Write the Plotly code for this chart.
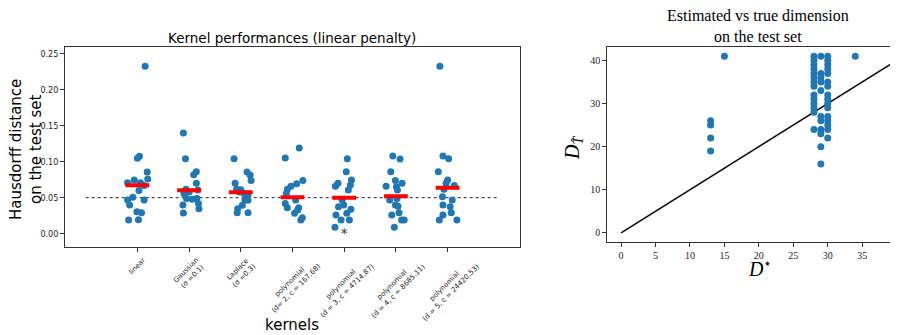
import plotly.graph_objects as go

# ---------------- Left chart data ----------------
kernel_labels = [
    "linear",
    "Gaussian<br>(σ =0.1)",
    "Laplace<br>(σ =0.3)",
    "polynomial<br>(d= 2, c = 167.68)",
    "polynomial<br>(d = 3, c = 4714.87)",
    "polynomial<br>(d = 4, c = 8685.11)",
    "polynomial<br>(d = 5, c = 24420.53)",
]

vals_linear = [0.2325, 0.1047, 0.1075, 0.0857, 0.076, 0.0709, 0.0746, 0.0709, 0.067,
               0.060, 0.0505, 0.0468, 0.0468, 0.0399, 0.0306, 0.0292, 0.019, 0.0195]
jit_linear = [0.15, 0.0, 0.04, 0.19, 0.2, -0.19, -0.06, 0.06, 0.13,
              0.03, -0.09, -0.19, 0.13, -0.15, -0.01, 0.08, -0.17, 0.02]

vals_gauss = [0.1399, 0.1042, 0.0861, 0.082, 0.070, 0.0617, 0.056, 0.0607, 0.049,
              0.0478, 0.049, 0.040, 0.042, 0.0347, 0.0287, 0.058]
jit_gauss = [-0.11, -0.07, 0.14, 0.09, 0.14, -0.06, -0.1, 0.17, -0.05,
             0.06, 0.15, -0.12, 0.18, 0.19, -0.11, 0.0]

vals_laplace = [0.104, 0.0857, 0.0815, 0.074, 0.070, 0.0617, 0.061, 0.056, 0.054,
                0.0468, 0.0464, 0.0394, 0.0347, 0.029, 0.029, 0.058]
jit_laplace = [-0.13, 0.12, 0.18, 0.2, -0.11, -0.08, 0.0, 0.06, 0.14,
               0.08, 0.14, 0.03, -0.06, -0.07, 0.14, -0.03]

vals_poly2 = [0.119, 0.105, 0.074, 0.0695, 0.066, 0.0617, 0.056, 0.0468, 0.042,
              0.036, 0.036, 0.0283, 0.022, 0.019, 0.033]
jit_poly2 = [0.13, -0.14, 0.2, 0.08, -0.03, -0.1, -0.12, 0.06, -0.14,
             -0.1, 0.12, 0.04, 0.19, 0.16, 0.1]

vals_poly3 = [0.104, 0.086, 0.0746, 0.0676, 0.066, 0.070, 0.0607, 0.0468, 0.0399,
              0.0375, 0.034, 0.0283, 0.026, 0.019, 0.019, 0.0088]
jit_poly3 = [0.06, 0.04, 0.14, 0.12, -0.17, -0.12, 0.08, -0.04, -0.01,
             -0.11, 0.13, 0.05, -0.16, -0.06, 0.1, -0.18]

vals_poly4 = [0.108, 0.1037, 0.086, 0.074, 0.070, 0.066, 0.0653, 0.0607, 0.0468,
              0.049, 0.0399, 0.038, 0.026, 0.029, 0.019, 0.019, 0.0088]
jit_poly4 = [-0.06, 0.08, -0.1, -0.01, 0.12, -0.19, 0.01, 0.03, -0.12,
             0.02, -0.01, 0.04, -0.08, 0.06, 0.11, 0.16, -0.03]

vals_poly5 = [0.2325, 0.108, 0.104, 0.086, 0.0746, 0.070, 0.067, 0.0617, 0.0514,
              0.0468, 0.0399, 0.0375, 0.029, 0.026, 0.019, 0.019]
jit_poly5 = [-0.15, -0.09, 0.02, -0.18, 0.0, -0.03, 0.13, -0.07, -0.1,
             0.09, -0.09, 0.05, 0.07, -0.09, -0.16, 0.18]

group_vals = [vals_linear, vals_gauss, vals_laplace, vals_poly2, vals_poly3, vals_poly4, vals_poly5]
group_jit = [jit_linear, jit_gauss, jit_laplace, jit_poly2, jit_poly3, jit_poly4, jit_poly5]

medians = [0.0672, 0.0603, 0.0575, 0.0505, 0.050, 0.052, 0.064]
reference_level = 0.05
best_kernel_index = 3

y_ticks_left = [0.0, 0.05, 0.10, 0.15, 0.20, 0.25]

# ---------------- Right chart data ----------------
true_dims = [13, 13, 13, 13,
             15,
             28, 28, 28, 28, 28, 28, 28, 28, 28, 28, 28, 28, 28, 28,
             29, 29, 29, 29, 29, 29, 29, 29, 29, 29, 29,
             30, 30, 30, 30, 30, 30, 30, 30, 30, 30, 30, 30, 30, 30, 30, 30,
             34]
est_dims = [26, 25, 22, 19,
            41,
            41, 40, 39, 38, 37, 36, 35, 34, 32, 31, 30, 29, 28, 24,
            41, 37, 36, 35, 33, 27, 26, 24, 23, 20, 16,
            41, 40, 39, 38, 37, 35, 34, 32, 31, 30, 29, 27, 26, 25, 24, 22,
            41]
diag = [0, 40]
x_ticks_right = [0, 5, 10, 15, 20, 25, 30, 35, 40]
y_ticks_right = [0, 10, 20, 30, 40]

BLUE = "#1f77b4"
OFF = 8            # page body margin
W, H = 898 - OFF, 335 - OFF


def xp(px):
    return (px - OFF) / W


def yp(py):
    return 1 - (py - OFF) / H


fig = go.Figure()

# Left: jittered scatter
xs, ys = [], []
for i, (vals, jit) in enumerate(zip(group_vals, group_jit)):
    for v, j in zip(vals, jit):
        xs.append(i + j)
        ys.append(v)

fig.add_trace(go.Scatter(x=[-1, len(kernel_labels)], y=[reference_level, reference_level],
                         mode="lines", line=dict(color="#222", width=1, dash="dot"),
                         xaxis="x", yaxis="y", showlegend=False, hoverinfo="skip"))
fig.add_trace(go.Scatter(x=xs, y=ys, mode="markers",
                         marker=dict(color=BLUE, size=7, line=dict(width=0)),
                         xaxis="x", yaxis="y", showlegend=False))
mx, my = [], []
for i, m in enumerate(medians):
    mx += [i - 0.23, i + 0.23, None]
    my += [m, m, None]
fig.add_trace(go.Scatter(x=mx, y=my, mode="lines", line=dict(color="red", width=4),
                         xaxis="x", yaxis="y", showlegend=False))
fig.add_trace(go.Scatter(x=[best_kernel_index + 1], y=[-0.001], mode="text", text=["*"],
                         textfont=dict(size=14, color="#333", family="DejaVu Sans"),
                         xaxis="x", yaxis="y", showlegend=False))

# Right: scatter + diagonal
fig.add_trace(go.Scatter(x=diag, y=diag, mode="lines", line=dict(color="black", width=1.5),
                         xaxis="x2", yaxis="y2", showlegend=False))
fig.add_trace(go.Scatter(x=true_dims, y=est_dims, mode="markers",
                         marker=dict(color=BLUE, size=7, line=dict(width=0)),
                         xaxis="x2", yaxis="y2", showlegend=False))

axis_common = dict(showgrid=False, zeroline=False, showline=True, linecolor="#333",
                   linewidth=1.3, ticks="outside", ticklen=4, tickcolor="#333",
                   automargin=False)

annotations = [
    dict(text="Kernel performances (linear penalty)", x=xp(292), y=yp(38),
         xref="paper", yref="paper", showarrow=False, xanchor="center", yanchor="middle",
         font=dict(family="DejaVu Sans", size=13.5, color="black")),
    dict(text="Hausdorff distance<br>on the test set", x=xp(26), y=yp(150),
         xref="paper", yref="paper", showarrow=False, textangle=-90,
         xanchor="center", yanchor="middle",
         font=dict(family="DejaVu Sans", size=15, color="black")),
    dict(text="kernels", x=xp(292), y=yp(325),
         xref="paper", yref="paper", showarrow=False, xanchor="center", yanchor="middle",
         font=dict(family="DejaVu Sans", size=15, color="black")),
    dict(text="Estimated vs true dimension<br>on the test set", x=xp(758), y=yp(26),
         xref="paper", yref="paper", showarrow=False, xanchor="center", yanchor="middle",
         font=dict(family="Liberation Serif", size=16, color="black")),
    dict(text="<i>D</i><sub><i>T̂</i></sub>", x=xp(574), y=yp(148),
         xref="paper", yref="paper", showarrow=False, textangle=-90,
         xanchor="center", yanchor="middle",
         font=dict(family="Liberation Serif", size=20, color="black")),
    dict(text="<i>D</i><sup>⋆</sup>", x=xp(760), y=yp(268),
         xref="paper", yref="paper", showarrow=False, xanchor="center", yanchor="middle",
         font=dict(family="Liberation Serif", size=20, color="black")),
]
# rotated kernel tick labels, centred under each tick (matplotlib style)
for i, lab in enumerate(kernel_labels):
    annotations.append(dict(text=lab, x=i, y=yp(253), xref="x", yref="paper",
                            showarrow=False, textangle=-45, xanchor="center", yanchor="top",
                            font=dict(family="DejaVu Sans", size=7, color="#222")))

fig.update_layout(
    width=W, height=H,
    margin=dict(l=0, r=0, t=0, b=0),
    paper_bgcolor="white", plot_bgcolor="white",
    xaxis=dict(domain=[xp(65), xp(520)], range=[-1.4, 7.4], mirror=True,
               tickmode="array", tickvals=list(range(len(kernel_labels))),
               showticklabels=False,
               anchor="y", **axis_common),
    yaxis=dict(domain=[yp(247), yp(47.3)], range=[-0.0185, 0.259], mirror=True,
               tickmode="array", tickvals=y_ticks_left,
               ticktext=["%.2f" % v for v in y_ticks_left],
               tickfont=dict(family="DejaVu Sans", size=8, color="#222"),
               anchor="x", **axis_common),
    xaxis2=dict(domain=[xp(607.3), 1.0], range=[-2, 40.2],
                tickmode="array", tickvals=x_ticks_right,
                tickfont=dict(family="Liberation Serif", size=10, color="#222"),
                anchor="y2", mirror=True, **axis_common),
    yaxis2=dict(domain=[yp(241.7), yp(47.3)], range=[-2.05, 43.05],
                tickmode="array", tickvals=y_ticks_right,
                tickfont=dict(family="Liberation Serif", size=10, color="#222"),
                anchor="x2", **axis_common),
    annotations=annotations,
)

fig.write_html("out.html")
